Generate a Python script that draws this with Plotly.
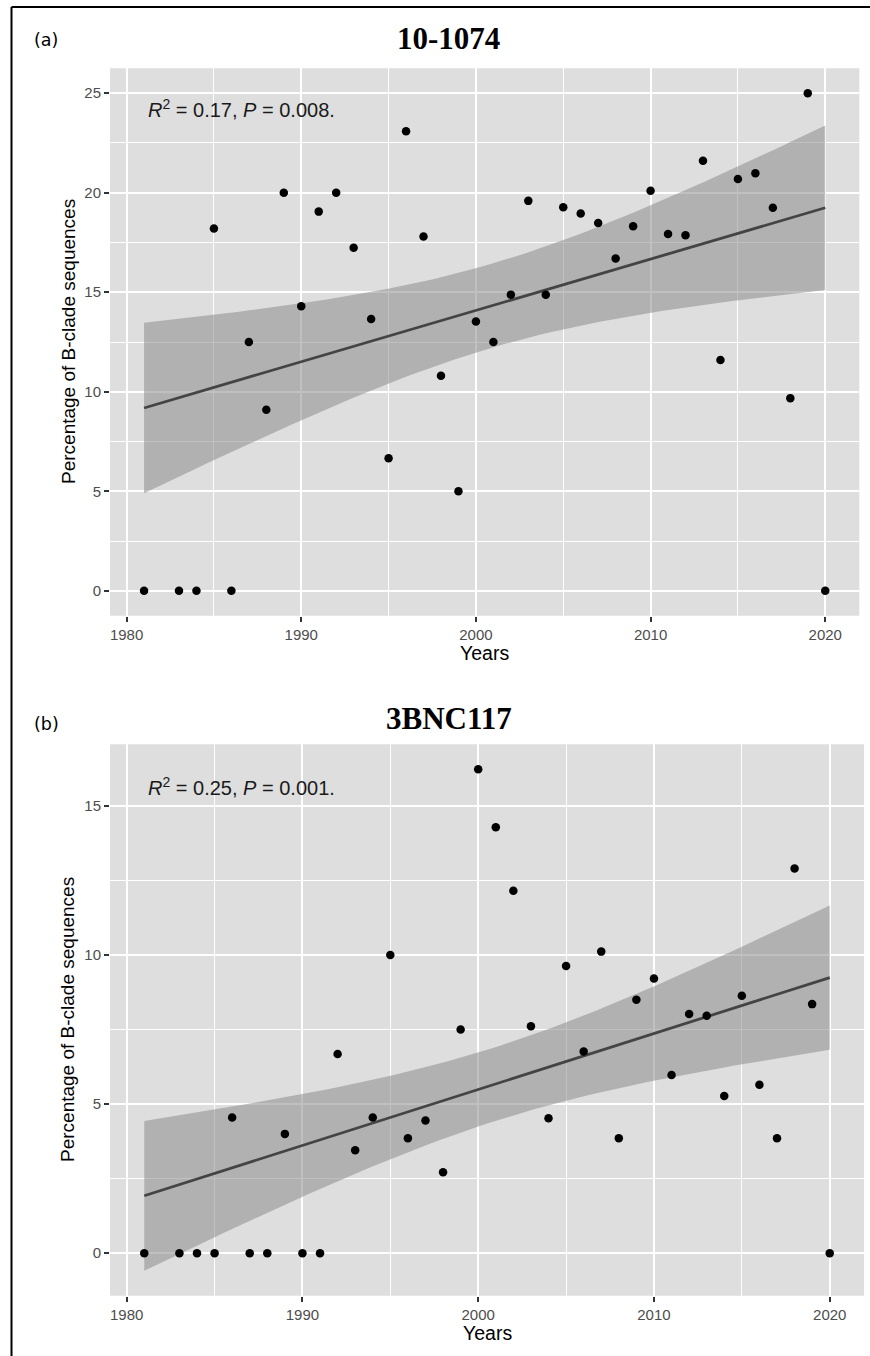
import numpy as np
import plotly.graph_objects as go

W, H = 870, 1356

years = [1981] + list(range(1983, 2021))

pct_a = [0, 0, 0, 18.2, 0, 12.5, 9.1, 20.0, 14.3, 19.05, 20.0, 17.24, 13.65, 6.66,
         23.09, 17.8, 10.81, 5.0, 13.53, 12.5, 14.88, 19.59, 14.87, 19.27, 18.95,
         18.48, 16.69, 18.32, 20.1, 17.93, 17.86, 21.61, 11.59, 20.69, 20.98, 19.24,
         9.68, 25.0, 0]

pct_b = [0, 0, 0, 0, 4.55, 0, 0, 4.0, 0, 0, 6.68, 3.45, 4.55, 10.0, 3.85, 4.45,
         2.71, 7.5, 16.22, 14.28, 12.15, 7.61, 4.52, 9.63, 6.76, 10.11, 3.85, 8.5,
         9.21, 5.97, 8.02, 7.96, 5.27, 8.63, 5.65, 3.85, 12.9, 8.35, 0]

titles = ["10-1074", "3BNC117"]
panel_tags = ["(a)", "(b)"]
stats_text = ["<i>R</i><sup>2</sup> = 0.17, <i>P</i> = 0.008.",
              "<i>R</i><sup>2</sup> = 0.25, <i>P</i> = 0.001."]
x_ticks = [1980, 1990, 2000, 2010, 2020]
y_ticks_a = [0, 5, 10, 15, 20, 25]
y_ticks_b = [0, 5, 10, 15]
x_title = "Years"
y_title = "Percentage of B-clade sequences"
T_CRIT = 2.0262  # t(0.975, df = 37)


def lm_band(x, y, n_grid=80):
    x = np.asarray(x, float)
    y = np.asarray(y, float)
    n = len(x)
    xm, ym = x.mean(), y.mean()
    sxx = ((x - xm) ** 2).sum()
    b = ((x - xm) * (y - ym)).sum() / sxx
    a = ym - b * xm
    resid = y - (a + b * x)
    s = np.sqrt((resid ** 2).sum() / (n - 2))
    xg = np.linspace(x.min(), x.max(), n_grid)
    fit = a + b * xg
    se = s * np.sqrt(1.0 / n + (xg - xm) ** 2 / sxx)
    return xg, fit, fit - T_CRIT * se, fit + T_CRIT * se


def px_y(p):
    return 1 - p / H


def px_x(p):
    return p / W


# panel geometry (pixels) and text anchor positions (pixels)
panels = [
    dict(x0=110, x1=859.3, y0=68.3, y1=615.7, title_y=38.5, tag_y=40.3, stat_y=108),
    dict(x0=110, x1=864.0, y0=744.3, y1=1295.7, title_y=719, tag_y=724, stat_y=786.5),
]

fig = go.Figure()
datasets = [pct_a, pct_b]
ytick_sets = [y_ticks_a, y_ticks_b]

PANEL_BG = "#DEDEDE"
SANS = "Liberation Sans, Arial, sans-serif"
TICK_FONT = dict(family=SANS, size=15, color="#4D4D4D")

for i, (vals, p) in enumerate(zip(datasets, panels)):
    xa = "x" if i == 0 else "x2"
    ya = "y" if i == 0 else "y2"
    xg, fit, lo, hi = lm_band(years, vals)

    fig.add_trace(go.Scatter(x=list(xg) + list(xg[::-1]), y=list(hi) + list(lo[::-1]),
                             fill="toself", fillcolor="rgba(140,140,140,0.55)",
                             line=dict(width=0), mode="lines", hoverinfo="skip",
                             showlegend=False, xaxis=xa, yaxis=ya))
    fig.add_trace(go.Scatter(x=xg, y=fit, mode="lines",
                             line=dict(color="#444444", width=2.8),
                             showlegend=False, xaxis=xa, yaxis=ya))
    fig.add_trace(go.Scatter(x=years, y=vals, mode="markers",
                             marker=dict(color="black", size=8.5),
                             showlegend=False, xaxis=xa, yaxis=ya))

    ymin = min(min(vals), lo.min())
    ymax = max(max(vals), hi.max())
    ypad = 0.05 * (ymax - ymin)
    xpad = 0.05 * (max(years) - min(years))

    common = dict(showline=False, zeroline=False, showgrid=True, gridcolor="white",
                  gridwidth=2, ticks="outside", ticklen=5, tickwidth=1.5,
                  tickcolor="#333333", tickfont=TICK_FONT)
    xaxis = dict(common, domain=[px_x(p["x0"]), px_x(p["x1"])],
                 range=[min(years) - xpad, max(years) + xpad],
                 tickvals=x_ticks, anchor=ya,
                 minor=dict(dtick=5, tick0=1980, showgrid=True, gridcolor="white",
                            gridwidth=1, ticks=""))
    yaxis = dict(common, domain=[px_y(p["y1"]), px_y(p["y0"])],
                 range=[ymin - ypad, ymax + ypad],
                 tickvals=ytick_sets[i], anchor=xa,
                 minor=dict(dtick=2.5, tick0=0, showgrid=True, gridcolor="white",
                            gridwidth=1, ticks=""))
    key = "" if i == 0 else "2"
    fig.update_layout(**{"xaxis" + key: xaxis, "yaxis" + key: yaxis})

    top, bot = p["y0"], p["y1"]
    cx = (p["x0"] + p["x1"]) / 2
    # title
    fig.add_annotation(text="<b>%s</b>" % titles[i], xref="paper", yref="paper",
                       x=px_x(449), y=px_y(p["title_y"]), xanchor="center",
                       yanchor="middle", showarrow=False,
                       font=dict(family="Liberation Serif, Times New Roman, serif",
                                 size=31, color="black"))
    fig.add_annotation(text=panel_tags[i], xref="paper", yref="paper",
                       x=px_x(32), y=px_y(p["tag_y"]), xanchor="left", yanchor="middle",
                       showarrow=False,
                       font=dict(family="DejaVu Sans, sans-serif", size=17.5,
                                 color="black"))
    # stats annotation
    fig.add_annotation(text=stats_text[i], xref="paper", yref="paper",
                       x=px_x(146), y=px_y(p["stat_y"]), xanchor="left",
                       yanchor="middle", showarrow=False,
                       font=dict(family=SANS, size=20, color="#1A1A1A"))
    # axis titles
    fig.add_annotation(text=x_title, xref="paper", yref="paper",
                       x=px_x(cx), y=px_y(bot + 37), xanchor="center", yanchor="middle",
                       showarrow=False, font=dict(family=SANS, size=19.5, color="black"))
    fig.add_annotation(text=y_title, xref="paper", yref="paper",
                       x=px_x(68), y=px_y((top + bot) / 2), xanchor="center",
                       yanchor="middle", textangle=-90, showarrow=False,
                       font=dict(family=SANS, size=19, color="black"))
    # panel background
    fig.add_shape(type="rect", xref="paper", yref="paper", layer="below",
                  x0=px_x(p["x0"]), x1=px_x(p["x1"]), y0=px_y(p["y1"]), y1=px_y(p["y0"]),
                  fillcolor=PANEL_BG, line=dict(width=0))

# outer frame lines (left and top)
fig.add_shape(type="line", xref="paper", yref="paper", x0=px_x(11.5), x1=px_x(11.5),
              y0=0, y1=px_y(7), line=dict(color="black", width=2))
fig.add_shape(type="line", xref="paper", yref="paper", x0=px_x(11.5), x1=1,
              y0=px_y(7), y1=px_y(7), line=dict(color="black", width=2))

fig.update_layout(width=W, height=H, margin=dict(l=0, r=0, t=0, b=0),
                  paper_bgcolor="white", plot_bgcolor="rgba(0,0,0,0)",
                  showlegend=False)

fig.write_html("out.html",
               config={"displayModeBar": False},
               post_script="document.body.style.margin='0';"
                           "document.body.style.padding='0';"
                           "document.body.style.overflow='hidden';")
